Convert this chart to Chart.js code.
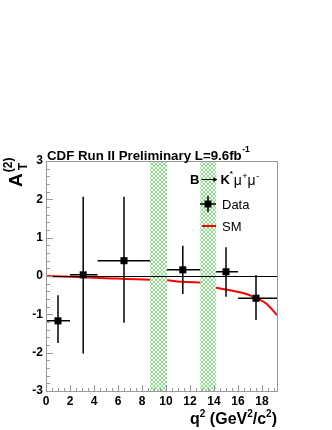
<!DOCTYPE html>
<html><head><meta charset="utf-8">
<script src="https://cdn.jsdelivr.net/npm/chart.js@4"></script>
<style>html,body{margin:0;padding:0;background:#fff}canvas{display:block}</style>
</head><body>
<canvas id="c" width="332" height="430"></canvas>
<script>
// ---- data ----
const dataX     = [1.0, 3.1, 6.5, 11.4, 15.0, 17.5];
const dataY     = [-1.17, 0.03, 0.40, 0.16, 0.11, -0.58];
const dataXLow  = [0.0, 2.0, 4.3, 10.09, 14.18, 16.0];
const dataXHigh = [2.0, 4.3, 8.68, 12.86, 16.0, 19.25];
const dataYLow  = [-1.75, -2.02, -1.22, -0.47, -0.54, -1.15];
const dataYHigh = [-0.50, 2.07, 2.07, 0.79, 0.75, 0.02];
const smX = [0, 2, 4.5, 8.7, 10.1, 11.2, 12.8, 14.1, 15.3, 16.5, 17.5, 18.4, 19.25];
const smY = [0.0, -0.02, -0.05, -0.10, -0.11, -0.15, -0.17, -0.30, -0.37, -0.45, -0.57, -0.73, -1.02];
const vetoLow  = [8.68, 12.86];
const vetoHigh = [10.09, 14.18];
const xTickStep = 2, yTickStep = 1;
const xRange = [0, 19.25], yRange = [-3, 3];

const FONT = "'Liberation Sans', Arial, Helvetica, sans-serif";

function hatch(ctx){
  const c = document.createElement('canvas'); c.width = 4; c.height = 4;
  const g = c.getContext('2d');
  g.fillStyle = '#fff'; g.fillRect(0,0,4,4);
  g.fillStyle = '#8ade8a';
  for (let i=0;i<4;i++){ g.fillRect(i,i,1,1); g.fillRect(3-i,i,1,1); }
  return ctx.createPattern(c,'repeat');
}

const rootPlugin = {
  id:'root',
  afterDatasetDraw(chart, args){
    const ctx = chart.ctx, a = chart.chartArea;
    const xs = chart.scales.x, ys = chart.scales.y;
    if (args.index === 0){
      ctx.save();
      ctx.fillStyle = hatch(ctx);
      for (let i=0;i<vetoLow.length;i++){
        const x0 = xs.getPixelForValue(vetoLow[i]), x1 = xs.getPixelForValue(vetoHigh[i]);
        ctx.fillRect(x0, a.top, x1-x0, a.bottom-a.top);
      }
      ctx.strokeStyle = '#000'; ctx.lineWidth = 1;
      const y0 = Math.round(ys.getPixelForValue(0))+0.5;
      ctx.beginPath(); ctx.moveTo(a.left, y0); ctx.lineTo(a.right, y0); ctx.stroke();
      ctx.restore();
    }
  },
  beforeDatasetDraw(chart, args){
    if (args.index !== 1) return;
    const ctx = chart.ctx, xs = chart.scales.x, ys = chart.scales.y;
    ctx.save();
    ctx.strokeStyle = '#000'; ctx.lineWidth = 1.5;
    for (let i=0;i<dataX.length;i++){
      const px = xs.getPixelForValue(dataX[i]), py = ys.getPixelForValue(dataY[i]);
      ctx.beginPath();
      ctx.moveTo(xs.getPixelForValue(dataXLow[i]), py); ctx.lineTo(xs.getPixelForValue(dataXHigh[i]), py);
      ctx.moveTo(px, ys.getPixelForValue(dataYLow[i])); ctx.lineTo(px, ys.getPixelForValue(dataYHigh[i]));
      ctx.stroke();
    }
    ctx.restore();
  },
  afterDraw(chart){
    const ctx = chart.ctx, a = chart.chartArea;
    const xs = chart.scales.x, ys = chart.scales.y;
    ctx.save();
    ctx.strokeStyle = '#999'; ctx.lineWidth = 1;
    ctx.strokeRect(Math.round(a.left)+0.5, Math.round(a.top)+0.5, Math.round(a.right-a.left), Math.round(a.bottom-a.top));
    ctx.beginPath();
    for (let v=yRange[0]; v<=yRange[1]+1e-6; v+=yTickStep/5){
      const major = Math.abs(v-Math.round(v))<1e-6;
      const y = Math.round(ys.getPixelForValue(v))+0.5;
      ctx.moveTo(a.left, y); ctx.lineTo(a.left+(major?7:4), y);
    }
    for (let v=xRange[0]; v<=xRange[1]+1e-6; v+=xTickStep/4){
      const major = Math.abs(v/xTickStep-Math.round(v/xTickStep))<1e-6;
      const x = Math.round(xs.getPixelForValue(v))+0.5;
      ctx.moveTo(x, a.bottom); ctx.lineTo(x, a.bottom-(major?6:3));
    }
    ctx.stroke();

    ctx.fillStyle = '#000';
    ctx.textBaseline = 'alphabetic';
    // title
    ctx.font = 'bold 13.3px '+FONT;
    ctx.textAlign = 'left';
    const t = 'CDF Run II Preliminary L=9.6fb';
    ctx.fillText(t, a.left+1, 160);
    const tw = ctx.measureText(t).width;
    ctx.font = 'bold 8.5px '+FONT;
    ctx.fillText('-1', a.left+1+tw+0.5, 152);

    // y axis title
    ctx.save();
    ctx.translate(22, 187);
    ctx.rotate(-Math.PI/2);
    ctx.font = 'bold 19px '+FONT;
    ctx.fillText('A', 0, 0);
    const aw = ctx.measureText('A').width;
    ctx.font = 'bold 12px '+FONT;
    ctx.fillText('T', aw+3, 5);
    ctx.fillText('(2)', aw+1, -10);
    ctx.restore();

    // x axis title
    ctx.textAlign = 'left';
    const parts = [['q',16,0],['2',10,-7],[' (GeV',16,0],['2',10,-7],['/c',16,0],['2',10,-7],[')',16,0]];
    let tot = 0;
    parts.forEach(p=>{ctx.font='bold '+p[1]+'px '+FONT; tot+=ctx.measureText(p[0]).width;});
    let x = a.right - tot;
    parts.forEach(p=>{ctx.font='bold '+p[1]+'px '+FONT; ctx.fillText(p[0], x, 424+p[2]); x+=ctx.measureText(p[0]).width;});

    // legend header
    let lx = 190; const ly = 184;
    ctx.font = 'bold 13px '+FONT; ctx.fillText('B', lx, ly); lx += ctx.measureText('B').width+2;
    // arrow
    ctx.strokeStyle = '#000'; ctx.lineWidth = 1;
    ctx.beginPath(); ctx.moveTo(lx, ly-4.5); ctx.lineTo(lx+15, ly-4.5); ctx.stroke();
    ctx.beginPath(); ctx.moveTo(lx+16, ly-4.5); ctx.lineTo(lx+12, ly-7); ctx.lineTo(lx+12, ly-2); ctx.closePath(); ctx.fill();
    lx += 19;
    ctx.font = 'bold 13px '+FONT; ctx.fillText('K', lx, ly); lx += ctx.measureText('K').width;
    ctx.font = 'bold 8px '+FONT; ctx.fillText('*', lx, ly-8); lx += 4;
    ctx.font = '14px '+FONT; ctx.fillText('\u03bc', lx, ly+1); lx += ctx.measureText('\u03bc').width+0.5;
    ctx.font = '9px '+FONT; ctx.fillText('+', lx, ly-5); lx += ctx.measureText('+').width;
    ctx.font = '14px '+FONT; ctx.fillText('\u03bc', lx, ly+1); lx += ctx.measureText('\u03bc').width+0.5;
    ctx.font = '9px '+FONT; ctx.fillText('-', lx, ly-5);

    // legend entries
    ctx.strokeStyle = '#000'; ctx.lineWidth = 1.5;
    ctx.beginPath(); ctx.moveTo(200, 204); ctx.lineTo(216, 204); ctx.moveTo(208, 196); ctx.lineTo(208, 212); ctx.stroke();
    ctx.fillRect(204.5, 200.5, 7, 7);
    ctx.strokeStyle = '#ff0000'; ctx.lineWidth = 2;
    ctx.beginPath(); ctx.moveTo(202, 226); ctx.lineTo(216, 226); ctx.stroke();
    ctx.font = '13px '+FONT;
    ctx.fillText('Data', 222, 209);
    ctx.fillText('SM', 222, 231);
    ctx.restore();
  }
};

const smPoints = smX.map((x,i)=>({x, y: smY[i]}));
const dataPoints = dataX.map((x,i)=>({x, y: dataY[i]}));

new Chart(document.getElementById('c'), {
  type: 'scatter',
  data: { datasets: [
    { type:'line', label:'SM', data: smPoints, borderColor:'#ff0000', borderWidth:2, pointRadius:0, fill:false, cubicInterpolationMode:'monotone', order:2 },
    { label:'Data', data: dataPoints, pointStyle:'rect', pointRadius:5, backgroundColor:'#000', borderColor:'#000', borderWidth:0, order:1 }
  ]},
  options: {
    responsive:false, animation:false, devicePixelRatio:1,
    layout:{ padding:{ top:161, right:55, left:0, bottom:0 } },
    plugins:{ legend:{display:false}, tooltip:{enabled:false} },
    scales:{
      x:{ type:'linear', min:xRange[0], max:xRange[1],
          grid:{display:false, drawTicks:false}, border:{display:false},
          ticks:{ stepSize:xTickStep, includeBounds:false, autoSkip:false, maxRotation:0, padding:3, color:'#000', font:{family:FONT, size:12, weight:'bold'} },
          afterFit(s){ s.height = 39; } },
      y:{ type:'linear', min:yRange[0], max:yRange[1],
          grid:{display:false, drawTicks:false}, border:{display:false},
          ticks:{ stepSize:yTickStep, padding:3, color:'#000', font:{family:FONT, size:12, weight:'bold'} },
          afterFit(s){ s.width = 46; } }
    }
  },
  plugins:[rootPlugin]
});
</script>
</body></html>
